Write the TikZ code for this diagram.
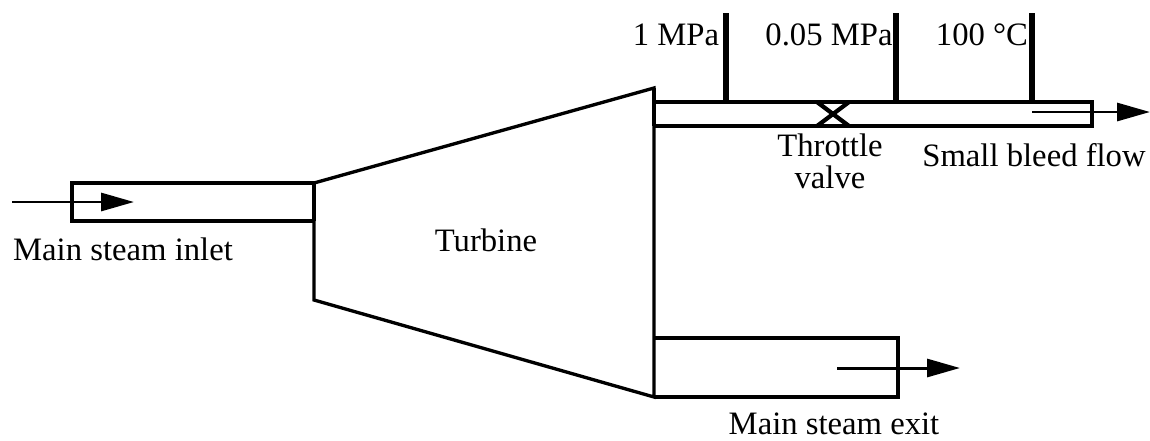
\documentclass[tikz,border=0pt]{standalone}
\usepackage{fontspec}
\setmainfont{Liberation Serif}
\usetikzlibrary{arrows.meta}

\begin{document}
\begin{tikzpicture}[x=0.02cm, y=-0.02cm, >={Triangle[length=0.66cm, width=0.36cm]}, font=\fontsize{18.6}{22}\selectfont,
		wall/.style={line width=1.9pt, line join=miter},
		gauge/.style={line width=3.2pt},
		flow/.style={->, line width=1.7pt},
		lbl/.style={inner sep=0pt, align=center}]
		\useasboundingbox (0,0) rectangle (1150,440);
		\draw[wall] (314,183) -- (654,88) -- (654,397) -- (314,300) -- cycle;
		\draw[line width=2.8pt] (314,183) -- (314,221);
		\draw[wall] (314,183) -- (72,183) -- (72,221) -- (314,221);
		\draw[wall] (654,102) -- (1092,102) -- (1092,126) -- (654,126);
		\draw[wall] (654,338) -- (898,338) -- (898,397) -- (654,397);
		\draw[line width=2.8pt] (654,88) -- (654,126);
		% gauges
		\foreach \x in {726,896,1032}{
			\draw[gauge] (\x,13) -- (\x,102);
		}
		% valve
		\draw[line width=2.4pt] (817,102) -- (849,126);
		\draw[line width=2.4pt] (849,102) -- (817,126);
		% arrows
		\coordinate (in1) at (12,202);
		\coordinate (in2) at (134,202);
		\coordinate (bleed1) at (1032,112);
		\coordinate (bleed2) at (1150,112);
		\coordinate (exit1) at (837,368);
		\coordinate (exit2) at (960,368);
		\draw[flow] (in1) -- (in2);
		\draw[flow] (bleed1) -- (bleed2);
		\draw[flow] (exit1) -- (exit2);
		% labels
		\node[lbl] (inlet) at (123,249) {Main steam inlet};
		\node[lbl] (turbine) at (486,240) {Turbine};
		\node[lbl] (exit) at (834,424) {Main steam exit};
		\node[lbl] (bleed) at (1034,155) {Small bleed flow};
		\node[lbl] (throttle) at (830,145) {Throttle};
		\node[lbl] (valve) at (830,177) {valve};
		\node[lbl] (p1) at (676,35) {1 MPa};
		\node[lbl] (p2) at (829,35) {0.05 MPa};
		\node[lbl] (t1) at (982,35) {100 °C};
	\end{tikzpicture}
\end{document}
